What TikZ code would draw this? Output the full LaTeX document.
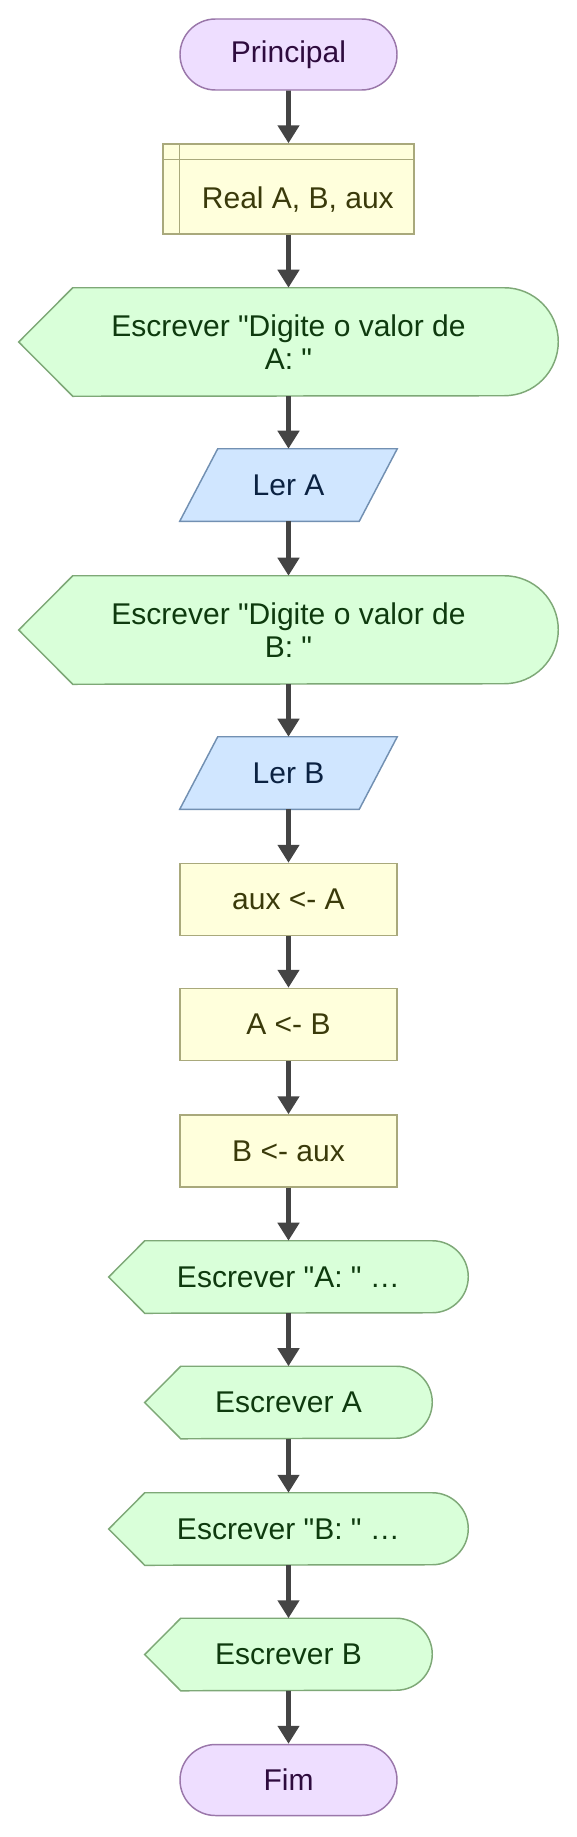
\documentclass[tikz,border=0pt]{standalone}
\usepackage{fontspec}
\setmainfont[Ligatures=TeXOff]{Liberation Sans}
\usetikzlibrary{arrows.meta,shapes.misc}
\pgfdeclarelayer{bg}
\pgfsetlayers{bg,main}
\definecolor{termfill}{HTML}{EEDEFF}
\definecolor{termline}{HTML}{9A77AA}
\definecolor{termtext}{HTML}{2E0B3E}
\definecolor{declfill}{HTML}{FFFFDC}
\definecolor{declline}{HTML}{A9A97C}
\definecolor{decltext}{HTML}{3A3A0A}
\definecolor{dispfill}{HTML}{D9FFD9}
\definecolor{displine}{HTML}{7EA877}
\definecolor{disptext}{HTML}{0E3A0E}
\definecolor{infill}{HTML}{D0E6FF}
\definecolor{inline}{HTML}{7290B2}
\definecolor{intext}{HTML}{0B2242}
\definecolor{flowline}{HTML}{444444}
\tikzset{
  every node/.style={font=\fontsize{22.5}{25}\selectfont, inner sep=0pt, align=center},
  term/.style={rounded rectangle, draw=termline, fill=termfill, text=termtext,
    line width=1.1pt, minimum width=162.75pt, minimum height=53.25pt},
  decl/.style={rectangle, draw=declline, fill=declfill, text=decltext,
    line width=1.1pt, minimum width=188.25pt, minimum height=67.5pt,
    text height=29.5pt, text depth=0pt},
  proc/.style={rectangle, draw=declline, fill=declfill, text=decltext,
    line width=1.1pt, minimum width=162.75pt, minimum height=54pt},
  outbig/.style={text=disptext, minimum width=404.25pt, minimum height=81pt},
  outwide/.style={text=disptext, minimum width=269.25pt, minimum height=54pt},
  outnarrow/.style={text=disptext, minimum width=215.25pt, minimum height=54pt},
  inp/.style={text=intext, minimum width=162.75pt, minimum height=54pt},
  dispbox/.style={draw=displine, fill=dispfill, line width=1.1pt},
  inbox/.style={draw=inline, fill=infill, line width=1.1pt},
  flow/.style={draw=flowline, line width=3.6pt, -{Triangle[length=13.5pt,width=15.75pt]}}
}
% outline of an output node: pointed left side, round right side
\newcommand{\dispoutline}[2]{%
  \path[dispbox] (#1.west) -- ([xshift=#2]#1.north west) -- ([xshift=-#2]#1.north east)
    arc[start angle=90,end angle=-90,radius=#2] -- ([xshift=#2]#1.south west) -- cycle;}
% outline of an input node: slanted box
\newcommand{\inoutline}[1]{%
  \path[inbox] (#1.south west) -- ([xshift=-28.5pt]#1.south east) -- (#1.north east)
    -- ([xshift=28.5pt]#1.north west) -- cycle;}
\begin{document}
\begin{tikzpicture}[x=0.75pt,y=-0.75pt]
        \useasboundingbox (0,0) rectangle (577,1837);
        \node (v0) [term] at (288.5,54.5) {Principal};
        \node (v1) [decl] at (288.5,189) {\hspace*{14pt}Real A, B, aux};
        \node (v2) [outbig] at (288.5,342) {Escrever "Digite o valor de\ \\A: "};
        \node (v3) [inp] at (288.5,485) {Ler A};
        \node (v4) [outbig] at (288.5,630) {Escrever "Digite o valor de\ \\B: "};
        \node (v5) [inp] at (288.5,773) {Ler B};
        \node (v6) [proc] at (288.5,899.5) {aux <- A};
        \node (v7) [proc] at (288.5,1024.5) {A <- B};
        \node (v8) [proc] at (288.5,1151) {B <- aux};
        \node (v9) [outwide] at (288.5,1277) {Escrever "A: " …};
        \node (v10) [outnarrow] at (288.5,1402.5) {Escrever A};
        \node (v11) [outwide] at (288.5,1529) {Escrever "B: " …};
        \node (v12) [outnarrow] at (288.5,1654.5) {Escrever B};
        \node (v13) [term] at (288.5,1780) {Fim};
        % inner lines of the declaration box
        \draw [declline, line width=1.1pt] ([yshift=-12pt]v1.north west) -- ([yshift=-12pt]v1.north east);
        \draw [declline, line width=1.1pt] ([xshift=12.75pt]v1.north west) -- ([xshift=12.75pt]v1.south west);
        \begin{pgfonlayer}{bg}
                \dispoutline{v2}{40.5pt}
                \inoutline{v3}
                \dispoutline{v4}{40.5pt}
                \inoutline{v5}
                \dispoutline{v9}{27pt}
                \dispoutline{v10}{27pt}
                \dispoutline{v11}{27pt}
                \dispoutline{v12}{27pt}
        \end{pgfonlayer}
        \draw (v0) edge [flow] (v1);
        \draw (v1) edge [flow] (v2);
        \draw (v2) edge [flow] (v3);
        \draw (v3) edge [flow] (v4);
        \draw (v4) edge [flow] (v5);
        \draw (v5) edge [flow] (v6);
        \draw (v6) edge [flow] (v7);
        \draw (v7) edge [flow] (v8);
        \draw (v8) edge [flow] (v9);
        \draw (v9) edge [flow] (v10);
        \draw (v10) edge [flow] (v11);
        \draw (v11) edge [flow] (v12);
        \draw (v12) edge [flow] (v13);
\end{tikzpicture}
\end{document}
